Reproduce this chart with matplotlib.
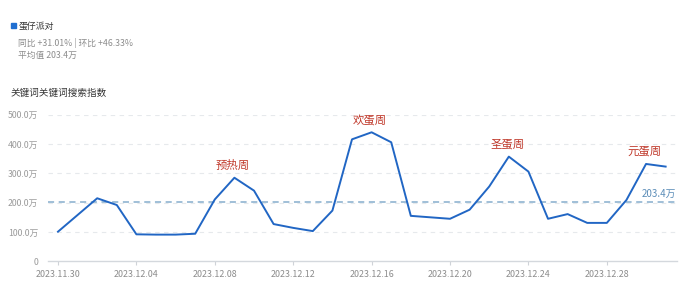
import matplotlib
matplotlib.use("Agg")
import matplotlib.pyplot as plt
import numpy as np

plt.rcParams['font.family'] = ['Noto Sans CJK SC', 'DejaVu Sans']

dates = ["2023.11.30", "2023.12.01", "2023.12.02", "2023.12.03", "2023.12.04", "2023.12.05",
         "2023.12.06", "2023.12.07", "2023.12.08", "2023.12.09", "2023.12.10", "2023.12.11",
         "2023.12.12", "2023.12.13", "2023.12.14", "2023.12.15", "2023.12.16", "2023.12.17",
         "2023.12.18", "2023.12.19", "2023.12.20", "2023.12.21", "2023.12.22", "2023.12.23",
         "2023.12.24", "2023.12.25", "2023.12.26", "2023.12.27", "2023.12.28", "2023.12.29",
         "2023.12.30", "2023.12.31"]
values = [101, 158, 215, 192, 92, 91, 91, 94, 211, 285, 241, 127, 114, 103, 173, 416,
          440, 406, 155, 150, 145, 176, 255, 357, 306, 145, 161, 131, 131, 209, 332, 323]
average = 203.4
yticks = [0, 100, 200, 300, 400, 500]
ytick_labels = ["0", "100.0万", "200.0万", "300.0万", "400.0万", "500.0万"]
xtick_idx = [0, 4, 8, 12, 16, 20, 24, 28]
annotations = [("预热周", 9), ("欢蛋周", 16), ("圣蛋周", 23), ("元蛋周", 30)]

W, H = 700, 284
fig = plt.figure(figsize=(7.0, 2.84), dpi=100)
ax = fig.add_axes([48 / W, (H - 261.3) / H, (677 - 48) / W, (261.3 - 114.7) / H])

x = np.arange(len(values))
ax.plot(x, values, color="#2166c4", lw=1.4, zorder=3)
ax.axhline(average, color="#86aecd", lw=1.1, ls=(0, (4, 3)), zorder=2)
for yv in yticks[1:]:
    ax.axhline(yv, color="#e6e9ec", lw=0.8, ls=(0, (4, 4)), zorder=1)

ax.set_xlim(-0.51, 31.58)
ax.set_ylim(0, 500)
ax.set_yticks(yticks)
ax.set_yticklabels(ytick_labels)
ax.set_xticks(xtick_idx)
ax.set_xticklabels([dates[i] for i in xtick_idx])
ax.tick_params(axis='y', length=0, pad=7, labelsize=6.3, labelcolor="#9a9a9a")
ax.tick_params(axis='x', length=3, width=0.8, color="#cfd3d8", pad=3, labelsize=6.4, labelcolor="#8c8c8c")
for s in ["top", "right", "left"]:
    ax.spines[s].set_visible(False)
ax.spines["bottom"].set_color("#d4d8dd")
ax.spines["bottom"].set_linewidth(1.0)

for txt, i in annotations:
    ax.annotate(txt, (i, values[i]), xytext=(-1, 5), textcoords="offset points",
                ha="center", va="bottom", fontsize=8.2, color="#c0392b")

ax.text(31.55, average + 10, f"{average}万", ha="right", va="bottom", fontsize=7, color="#5b8db8")

# header
fig.patches.append(plt.Rectangle((11 / W, (H - 28) / H), 5 / W, 5 / H, transform=fig.transFigure,
                                 color="#1f6fd1", figure=fig))
fig.text(19 / W, (H - 26) / H, "蛋仔派对", fontsize=6.4, color="#333333", va="center")
fig.text(18 / W, (H - 43) / H, "同比 +31.01% | 环比 +46.33%", fontsize=6.3, color="#8c8c8c", va="center")
fig.text(18 / W, (H - 55.5) / H, "平均值 203.4万", fontsize=6.3, color="#8c8c8c", va="center")
fig.text(11 / W, (H - 93) / H, "关键词关键词搜索指数", fontsize=6.9, color="#333333", va="center")

fig.savefig("out.png", dpi=100, facecolor="white")
